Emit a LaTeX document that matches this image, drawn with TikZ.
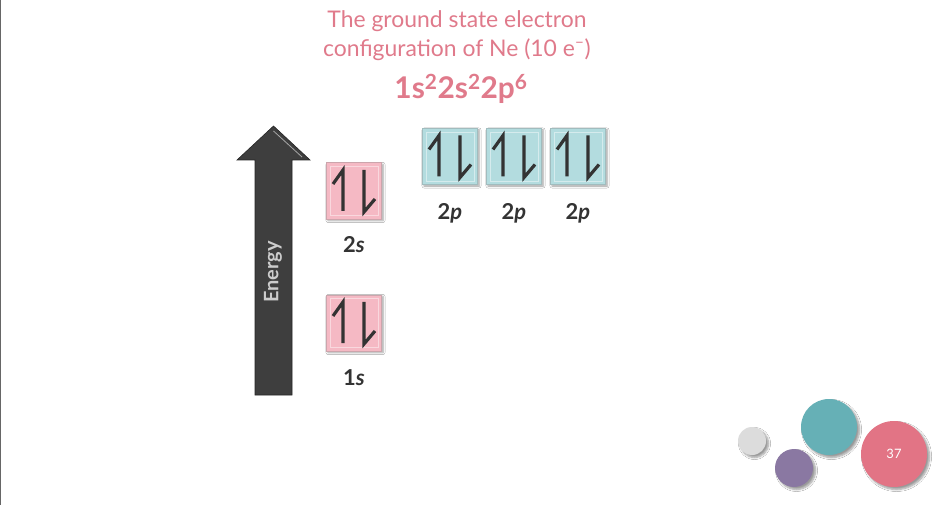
\documentclass[tikz,border=0pt]{standalone}
\usepackage{fontspec}
\setmainfont{Lato}
\usepackage{xcolor}
\usetikzlibrary{shapes.geometric, arrows.meta, positioning, shadows.blur, calc}

\definecolor{titlepink}{HTML}{E07A8B}
\definecolor{boxpink}{HTML}{F5B9C4}
\definecolor{boxblue}{HTML}{B3DCDF}
\definecolor{inkgray}{HTML}{333333}
\definecolor{arrowgray}{HTML}{3E3E3E}
\definecolor{dotgray}{HTML}{DCDCDC}
\definecolor{dotpurple}{HTML}{8A78A2}
\definecolor{dotteal}{HTML}{66B0B6}
\definecolor{dotpink}{HTML}{E27485}

\begin{document}
\begin{tikzpicture}[
  x=1bp, y=-1bp,
  title/.style={font=\fontsize{23}{26}\selectfont, text=titlepink},
  config/.style={font=\fontsize{30}{33}\selectfont\bfseries, text=titlepink},
  orbS/.style={rectangle, draw=boxpink!65!gray, line width=1pt, fill=boxpink,
               minimum width=55bp, minimum height=56bp, inner sep=0pt,
               blur shadow={shadow xshift=1.5bp, shadow yshift=-1.5bp, shadow blur steps=4}},
  orbP/.style={orbS, draw=boxblue!65!gray, fill=boxblue},
  sublab/.style={font=\fontsize{22}{25}\selectfont\bfseries, text=inkgray},
  spin/.style={line width=3.2pt, inkgray, line join=miter},
  dot/.style={circle, inner sep=0pt,
              blur shadow={shadow xshift=2.5bp, shadow yshift=-2.5bp, shadow blur steps=6}},
  spinpair/.pic={
    \draw[spin] (-11,20) -- (-11,-21) -- (-21,-7);
    \draw[spin] (10,-21) -- (10,21) -- (21,8);
  }
]
  \useasboundingbox (0,0) rectangle (942,505);
  \fill[white] (0,0) rectangle (942,505);
  \fill[black!60] (0,0) rectangle (1.5,505);

  % Title
  \node[title]  (line1) at (457, 21) {The ground state electron};
  \node[title]  (line2) at (457, 50) {configuration of Ne (10 e\textsuperscript{--})};
  \node[config] (conf)  at (461, 89) {1s\textsuperscript{2}2s\textsuperscript{2}2p\textsuperscript{6}};

  % Energy arrow
  \fill[arrowgray, draw=black!85, line width=0.6pt]
    (255,395) -- (255,160) -- (237,160) -- (273.5,126) -- (310,160)
    -- (292,160) -- (292,395) -- cycle;
  \draw[gray!70, line width=0.8pt] (273.5,131) -- (302,157);
  \node[rotate=90, font=\fontsize{20}{23}\selectfont\bfseries, text=gray!40]
    (energy) at (273,272) {Energy};

  % Orbital boxes
  \node[orbS] (s1) at (354, 323) {};
  \node[orbS] (s2) at (354, 191) {};
  \node[orbP] (p1) at (450, 156.5) {};
  \node[orbP] (p2) at (514, 156.5) {};
  \node[orbP] (p3) at (578, 156.5) {};
  \foreach \b in {s1, s2, p1, p2, p3}
    \draw[white, opacity=0.45, line width=0.7pt] ($(\b.north west)+(4,4)$) rectangle ($(\b.south east)+(-4,-4)$);
  \foreach \b in {s1, s2, p1, p2, p3}
    \pic at (\b.center) {spinpair};

  % Labels
  \node[sublab] (l1s) at (354, 378) {1\textit{s}};
  \node[sublab] (l2s) at (354, 245) {2\textit{s}};
  \node[sublab] (l2p1) at (450, 213) {2\textit{p}};
  \node[sublab] (l2p2) at (514, 213) {2\textit{p}};
  \node[sublab] (l2p3) at (578, 213) {2\textit{p}};

  % Corner dots
  \node[dot, fill=dotgray,   minimum size=28bp] (dA) at (752, 441) {};
  \node[dot, fill=dotpurple, minimum size=38bp] (dB) at (794, 468) {};
  \node[dot, fill=dotteal,   minimum size=56bp] (dC) at (829, 427) {};
  \node[dot, fill=dotpink,   minimum size=66bp, text=white,
        font=\fontsize{13}{15}\selectfont] (page) at (894, 454) {37};
\end{tikzpicture}
\end{document}
